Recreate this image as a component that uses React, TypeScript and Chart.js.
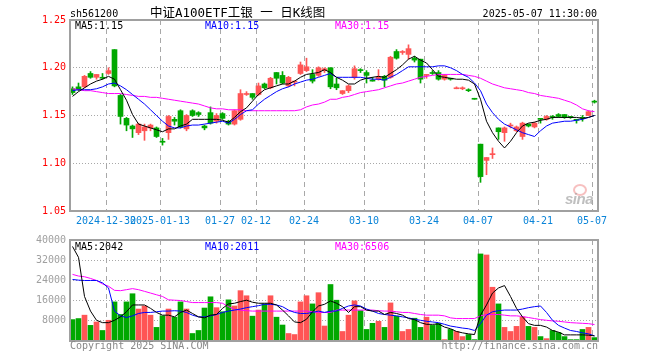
import React, { useEffect, useRef } from 'react';
import { Chart, registerables } from 'chart.js';
Chart.register(...registerables);

// ---------- data ----------
const dates = [
  '2024-12-20','2024-12-23','2024-12-24','2024-12-25','2024-12-26','2024-12-27','2024-12-30','2024-12-31','2025-01-02','2025-01-03',
  '2025-01-06','2025-01-07','2025-01-08','2025-01-09','2025-01-10','2025-01-13','2025-01-14','2025-01-15','2025-01-16','2025-01-17',
  '2025-01-20','2025-01-21','2025-01-22','2025-01-23','2025-01-24','2025-01-27','2025-02-05','2025-02-06','2025-02-07','2025-02-10',
  '2025-02-11','2025-02-12','2025-02-13','2025-02-14','2025-02-17','2025-02-18','2025-02-19','2025-02-20','2025-02-21','2025-02-24',
  '2025-02-25','2025-02-26','2025-02-27','2025-02-28','2025-03-03','2025-03-04','2025-03-05','2025-03-06','2025-03-07','2025-03-10',
  '2025-03-11','2025-03-12','2025-03-13','2025-03-14','2025-03-17','2025-03-18','2025-03-19','2025-03-20','2025-03-21','2025-03-24',
  '2025-03-25','2025-03-26','2025-03-27','2025-03-28','2025-03-31','2025-04-01','2025-04-02','2025-04-03','2025-04-07','2025-04-08',
  '2025-04-09','2025-04-10','2025-04-11','2025-04-14','2025-04-15','2025-04-16','2025-04-17','2025-04-18','2025-04-21','2025-04-22',
  '2025-04-23','2025-04-24','2025-04-25','2025-04-28','2025-04-29','2025-04-30','2025-05-06','2025-05-07'
];

const tickDates = ['2024-12-30','2025-01-13','2025-01-27','2025-02-12','2025-02-24','2025-03-10','2025-03-24','2025-04-07','2025-04-21','2025-05-07'];
const tickLabels = ['2024-12-30','2025-01-13','01-27','02-12','02-24','03-10','03-24','04-07','04-21','05-07'];

const opens = [
  1.178,1.180,1.180,1.194,1.190,1.190,1.194,1.219,1.171,1.147,
  1.139,1.132,1.134,1.137,1.137,1.123,1.132,1.146,1.155,1.136,
  1.155,1.153,1.139,1.153,1.144,1.152,1.144,1.141,1.146,1.172,
  1.173,1.172,1.183,1.179,1.195,1.192,1.181,1.185,1.194,1.197,
  1.193,1.192,1.197,1.200,1.183,1.173,1.176,1.190,1.198,1.195,
  1.187,1.188,1.191,1.190,1.217,1.216,1.214,1.210,1.209,1.192,
  1.195,1.195,1.188,1.189,1.178,1.178,1.177,1.168,1.120,1.103,
  1.109,1.137,1.132,1.139,1.134,1.128,1.141,1.138,1.147,1.146,
  1.149,1.151,1.151,1.149,1.146,1.148,1.150,1.165
];
const highs = [
  1.180,1.184,1.192,1.196,1.193,1.194,1.200,1.219,1.172,1.148,
  1.140,1.142,1.141,1.141,1.138,1.126,1.150,1.148,1.156,1.151,
  1.156,1.154,1.140,1.159,1.152,1.153,1.145,1.156,1.177,1.175,
  1.173,1.184,1.184,1.190,1.195,1.196,1.191,1.186,1.206,1.210,
  1.198,1.201,1.200,1.200,1.189,1.176,1.182,1.202,1.199,1.197,
  1.190,1.198,1.192,1.212,1.219,1.218,1.224,1.212,1.209,1.193,
  1.197,1.197,1.193,1.189,1.180,1.180,1.178,1.168,1.120,1.106,
  1.116,1.137,1.138,1.142,1.139,1.143,1.141,1.143,1.147,1.150,
  1.150,1.152,1.151,1.149,1.146,1.150,1.155,1.166
];
const lows = [
  1.172,1.176,1.179,1.189,1.188,1.188,1.193,1.180,1.141,1.134,
  1.127,1.130,1.124,1.134,1.127,1.119,1.125,1.140,1.137,1.134,
  1.149,1.149,1.135,1.141,1.142,1.146,1.140,1.140,1.145,1.171,
  1.167,1.171,1.178,1.178,1.183,1.183,1.180,1.181,1.193,1.196,
  1.184,1.191,1.195,1.178,1.177,1.172,1.174,1.188,1.195,1.184,
  1.186,1.187,1.180,1.189,1.209,1.214,1.209,1.206,1.184,1.189,
  1.193,1.187,1.187,1.187,1.178,1.177,1.175,1.167,1.080,1.088,
  1.105,1.125,1.123,1.137,1.133,1.125,1.138,1.137,1.142,1.145,
  1.146,1.148,1.147,1.147,1.142,1.144,1.150,1.163
];
const closes = [
  1.174,1.177,1.191,1.190,1.193,1.189,1.197,1.181,1.149,1.140,
  1.136,1.141,1.138,1.140,1.128,1.122,1.149,1.144,1.138,1.150,
  1.150,1.151,1.137,1.142,1.150,1.147,1.141,1.155,1.173,1.173,
  1.169,1.181,1.179,1.189,1.189,1.184,1.190,1.186,1.203,1.201,
  1.186,1.200,1.199,1.180,1.179,1.176,1.181,1.199,1.197,1.192,
  1.186,1.190,1.187,1.211,1.210,1.217,1.220,1.208,1.188,1.193,
  1.194,1.188,1.192,1.188,1.179,1.179,1.176,1.167,1.086,1.106,
  1.110,1.133,1.137,1.140,1.138,1.142,1.139,1.142,1.146,1.149,
  1.148,1.149,1.148,1.148,1.145,1.147,1.154,1.164
];

const ma5 = [
  1.170,1.175,1.179,1.183,1.186,1.188,1.191,1.188,1.177,1.166,
  1.151,1.141,1.139,1.137,1.135,1.133,1.136,1.136,1.139,1.141,
  1.146,1.146,1.146,1.146,1.146,1.145,1.143,1.148,1.154,1.158,
  1.165,1.172,1.177,1.179,1.181,1.183,1.183,1.186,1.190,1.193,
  1.194,1.195,1.198,1.195,1.190,1.187,1.183,1.183,1.187,1.189,
  1.190,1.191,1.190,1.194,1.198,1.203,1.209,1.212,1.208,1.205,
  1.198,1.191,1.190,1.189,1.188,1.188,1.187,1.183,1.167,1.144,
  1.132,1.123,1.116,1.123,1.132,1.139,1.142,1.143,1.145,1.146,
  1.148,1.148,1.148,1.148,1.148,1.147,1.148,1.150
];
const ma10 = [
  1.176,1.177,1.177,1.177,1.178,1.180,1.183,1.184,1.181,1.177,
  1.172,1.167,1.162,1.156,1.150,1.144,1.139,1.137,1.137,1.139,
  1.140,1.140,1.141,1.142,1.143,1.144,1.142,1.146,1.151,1.155,
  1.156,1.162,1.167,1.171,1.175,1.178,1.180,1.183,1.185,1.187,
  1.188,1.190,1.192,1.194,1.190,1.190,1.190,1.190,1.190,1.189,
  1.188,1.188,1.187,1.190,1.193,1.197,1.201,1.201,1.201,1.201,
  1.201,1.202,1.202,1.200,1.197,1.193,1.190,1.184,1.176,1.162,
  1.153,1.146,1.141,1.138,1.135,1.132,1.130,1.128,1.134,1.139,
  1.142,1.143,1.144,1.144,1.145,1.146,1.148,1.150
];
const ma30 = [
  1.178,1.177,1.176,1.176,1.175,1.174,1.173,1.173,1.173,1.172,
  1.171,1.170,1.170,1.169,1.169,1.168,1.167,1.166,1.165,1.164,
  1.163,1.162,1.160,1.158,1.157,1.157,1.156,1.156,1.156,1.155,
  1.155,1.155,1.155,1.155,1.155,1.155,1.155,1.155,1.156,1.159,
  1.161,1.162,1.164,1.167,1.167,1.169,1.170,1.172,1.174,1.175,
  1.176,1.177,1.179,1.181,1.183,1.184,1.186,1.188,1.190,1.191,
  1.192,1.193,1.193,1.193,1.193,1.193,1.192,1.191,1.189,1.186,
  1.183,1.181,1.179,1.178,1.177,1.176,1.174,1.173,1.171,1.170,
  1.169,1.168,1.166,1.164,1.161,1.157,1.155,1.154
];

const volumes = [
  8480,8890,10230,6190,7540,4170,8210,15490,10500,15490,
  18720,12660,13870,10230,5390,9970,12660,9430,15490,12660,
  2970,4170,13060,17510,13200,11590,16300,13870,19940,17920,
  9840,12260,14690,17920,9430,6330,2970,2560,15490,17920,
  14690,19130,5930,22370,16160,3770,10230,15890,12000,4580,
  7000,7810,5390,15080,9840,3770,4580,9020,5390,9430,
  6190,7000,540,4580,3770,1750,2560,540,34480,34070,
  21290,14690,5390,3770,5790,9430,5790,5390,1750,940,
  4170,3370,1750,540,540,4580,5390,1350
];
const volMa5 = [
  37440,33130,17640,11850,8210,7270,7270,8210,9560,11580,
  14270,14270,14270,12930,11310,10230,10230,9560,11310,12250,
  10900,9560,9160,10230,10500,12930,14680,14950,15620,16160,
  15350,14950,14950,14950,14270,12250,9960,7540,7270,8620,
  11580,13870,14540,15890,14950,13600,11310,13600,13600,12250,
  11850,11850,10500,11310,10900,10230,8890,8480,7270,6600,
  6600,6730,5520,4850,3770,3230,2830,2560,10230,14270,
  18990,21010,21950,17640,12930,9560,6870,6190,6190,5520,
  4170,3500,2420,2420,2420,2420,2300,2042
];
const volMa10 = [
  24370,24100,23970,23970,23970,23030,21010,11850,9960,9290,
  9960,10900,11310,11310,11580,11850,11850,11990,11850,11310,
  10230,9560,9560,9960,10500,11310,11850,12250,12660,13200,
  13600,14000,14540,14540,14270,13600,12250,11310,10900,10900,
  11310,11850,11310,11850,11850,12930,13870,14270,13870,12660,
  11850,10900,10500,10230,9960,9560,9160,8620,8210,7810,
  7540,7270,6600,5920,5520,5120,4850,4170,6870,10230,
  11580,11990,12250,12250,12250,12660,13200,13600,13870,11310,
  8210,6190,5120,4170,3770,3230,2830,2011
];
const volMa30 = [
  26390,25720,25450,24780,23970,22620,21680,20060,19930,20330,
  20740,20330,19660,18990,18310,17640,16300,16160,16030,15620,
  15220,15220,15220,15220,15220,14950,13600,12500,12200,12000,
  11850,11850,11850,11850,11850,11850,11850,11850,11850,11850,
  11580,11310,11310,11310,12250,12250,12250,12250,12250,12250,
  12250,11990,11850,11850,11580,11310,11310,10900,10500,10230,
  10230,10230,9960,9160,8890,8890,8890,8890,9960,10500,
  10500,10500,10230,9960,9960,9700,9290,8890,8480,8210,
  7950,7810,7540,7270,7140,7000,6870,6506
];

const priceTicks = [1.05, 1.10, 1.15, 1.20, 1.25];
const volTicks = [0, 8000, 16000, 24000, 32000, 40000];

// ---------- styles ----------
const MONO = '"DejaVu Sans Mono", "Liberation Mono", monospace';
const RED = '#ff5555';
const GREEN = '#00a800';
const FRAME = '#a0a0a0';
const GRID = '#a8a8a8';

const N = dates.length;
const xs = dates.map((_, i) => i + 5 / 12);
const tickIdx = tickDates.map((d) => dates.indexOf(d));
const upColors = closes.map((c, i) => (c >= opens[i] ? RED : GREEN));

const framePlugin = {
  id: 'frame',
  afterDraw(chart: any) {
    const { ctx, chartArea } = chart;
    const { left, top, right, bottom } = chartArea;
    ctx.save();
    ctx.strokeStyle = FRAME;
    ctx.lineWidth = 2;
    ctx.strokeRect(left, top, right - left, bottom - top);
    ctx.restore();
  },
};

const lineDs = (vals: number[], color: string) => ({
  type: 'line' as const,
  data: xs.map((x, i) => ({ x, y: vals[i] })),
  borderColor: color,
  borderWidth: 1,
  pointRadius: 0,
  tension: 0,
  fill: false,
});

const xScale = (showLabels: boolean) => ({
  type: 'linear' as const,
  min: 0,
  max: N,
  offset: false,
  afterBuildTicks: (s: any) => {
    s.ticks = tickIdx.map((value) => ({ value }));
  },
  afterFit: (s: any) => {
    s.height = 19;
  },
  grid: { offset: false, color: GRID, lineWidth: 1, drawTicks: false },
  border: { display: false, dash: [5, 4] },
  ticks: {
    display: showLabels,
    autoSkip: false,
    maxRotation: 0,
    minRotation: 0,
    padding: 4,
    color: '#0a84d8',
    font: { family: MONO, size: 10 },
    callback: (v: any) => {
      const k = tickIdx.indexOf(Number(v));
      return k >= 0 ? tickLabels[k] : '';
    },
  },
});

function mainConfig(): any {
  return {
    type: 'bar',
    data: {
      datasets: [
        lineDs(ma5, '#000000'),
        lineDs(ma10, '#0000ff'),
        lineDs(ma30, '#ff00ff'),
        {
          type: 'bar',
          data: xs.map((x, i) => ({ x, y: [Math.min(opens[i], closes[i]), Math.max(opens[i], closes[i])] })),
          backgroundColor: upColors,
          barThickness: 5,
          minBarLength: 1,
          grouped: false,
          borderWidth: 0,
        },
        {
          type: 'bar',
          data: xs.map((x, i) => ({ x, y: [lows[i], highs[i]] })),
          backgroundColor: upColors,
          barThickness: 1,
          minBarLength: 1,
          grouped: false,
          borderWidth: 0,
        },
      ],
    },
    options: {
      animation: false,
      responsive: false,
      maintainAspectRatio: false,
      devicePixelRatio: 1,
      events: [],
      layout: { padding: { left: 0, right: 62, top: 20, bottom: 0 } },
      plugins: { legend: { display: false }, tooltip: { enabled: false }, title: { display: false } },
      scales: {
        x: xScale(true),
        y: {
          type: 'linear',
          min: 1.05,
          max: 1.25,
          beginAtZero: false,
          afterBuildTicks: (s: any) => {
            s.ticks = priceTicks.map((value) => ({ value }));
          },
          afterFit: (s: any) => {
            s.width = 70;
          },
          grid: {
            drawTicks: false,
            lineWidth: 1,
            color: (c: any) => (c.index === 0 || c.index === priceTicks.length - 1 ? 'rgba(0,0,0,0)' : GRID),
          },
          border: { display: false, dash: [1, 2] },
          ticks: {
            padding: 4,
            color: '#ff0000',
            font: { family: MONO, size: 10 },
            callback: (v: any) => Number(v).toFixed(2),
          },
        },
      },
    },
    plugins: [framePlugin],
  };
}

function volConfig(): any {
  return {
    type: 'bar',
    data: {
      datasets: [
        lineDs(volMa5, '#000000'),
        lineDs(volMa10, '#0000ff'),
        lineDs(volMa30, '#ff00ff'),
        {
          type: 'bar',
          data: xs.map((x, i) => ({ x, y: volumes[i] })),
          backgroundColor: upColors,
          barThickness: 5,
          grouped: false,
          borderWidth: 0,
        },
      ],
    },
    options: {
      animation: false,
      responsive: false,
      maintainAspectRatio: false,
      devicePixelRatio: 1,
      events: [],
      layout: { padding: { left: 0, right: 62, top: 10, bottom: 0 } },
      plugins: { legend: { display: false }, tooltip: { enabled: false }, title: { display: false } },
      scales: {
        x: xScale(false),
        y: {
          type: 'linear',
          min: 0,
          max: 40000,
          afterBuildTicks: (s: any) => {
            s.ticks = volTicks.map((value) => ({ value }));
          },
          afterFit: (s: any) => {
            s.width = 70;
          },
          grid: {
            drawTicks: false,
            lineWidth: 1,
            color: (c: any) => (c.index === 0 || c.index === volTicks.length - 1 ? 'rgba(0,0,0,0)' : GRID),
          },
          border: { display: false, dash: [1, 2] },
          ticks: {
            padding: 4,
            color: '#a0a0a0',
            font: { family: MONO, size: 10 },
            callback: (v: any) => (Number(v) === 0 ? '' : String(v)),
          },
        },
      },
    },
    plugins: [framePlugin],
  };
}

// text placed by its baseline (DejaVu Sans Mono metrics, line-height = font size)
function Txt(props: { text: string; x: number; base: number; size?: number; color?: string; align?: 'left' | 'right'; family?: string; style?: any }) {
  const size = props.size ?? 10;
  const top = props.base - 0.846 * size;
  const s: any = {
    position: 'absolute',
    top,
    fontFamily: props.family ?? MONO,
    fontSize: size,
    lineHeight: `${size}px`,
    color: props.color ?? '#000',
    whiteSpace: 'nowrap',
    ...props.style,
  };
  if (props.align === 'right') s.right = 660 - props.x;
  else s.left = props.x;
  return <div style={s}>{props.text}</div>;
}

export default function App() {
  const mainRef = useRef<HTMLCanvasElement>(null);
  const volRef = useRef<HTMLCanvasElement>(null);

  useEffect(() => {
    const c1 = new Chart(mainRef.current as HTMLCanvasElement, mainConfig());
    const c2 = new Chart(volRef.current as HTMLCanvasElement, volConfig());
    return () => {
      c1.destroy();
      c2.destroy();
    };
  }, []);

  const last = (a: number[]) => a[a.length - 1];

  return (
    <div style={{ position: 'fixed', left: 0, top: 0, width: 660, height: 360, background: '#fff', overflow: 'hidden' }}>
      <canvas ref={mainRef} width={660} height={230} style={{ position: 'absolute', left: 0, top: 0, width: 660, height: 230 }} />
      <canvas ref={volRef} width={660} height={130} style={{ position: 'absolute', left: 0, top: 230, width: 660, height: 130 }} />

      <Txt text="sh561200" x={70} base={17} />
      <Txt text="中证A100ETF工银 一 日K线图" x={150} base={18} size={12.5} family={'"DejaVu Sans Mono", "Noto Sans CJK SC", monospace'} />
      <Txt text="2025-05-07 11:30:00" x={597} base={17} align="right" />

      <Txt text={`MA5:${last(ma5).toFixed(2)}`} x={75} base={29} color="#000000" />
      <Txt text={`MA10:${last(ma10).toFixed(2)}`} x={205} base={29} color="#0000ff" />
      <Txt text={`MA30:${last(ma30).toFixed(2)}`} x={335} base={29} color="#ff00ff" />

      <Txt text={`MA5:${last(volMa5)}`} x={75} base={250} color="#000000" />
      <Txt text={`MA10:${last(volMa10)}`} x={205} base={250} color="#0000ff" />
      <Txt text={`MA30:${last(volMa30)}`} x={335} base={250} color="#ff00ff" />

      <Txt text="Copyright 2025 SINA.COM" x={70} base={349} color="#888888" />
      <Txt text="http://finance.sina.com.cn" x={598} base={349} color="#888888" align="right" />

      <div style={{ position: 'absolute', left: 573, top: 184, width: 10, height: 8, border: '2px solid rgba(240,140,140,0.55)', borderRadius: '50%' }} />
      <Txt text="sina" x={565} base={204} size={15} color="rgba(170,170,170,0.75)" family={'"Liberation Sans", Arial, sans-serif'} style={{ fontStyle: 'italic', fontWeight: 'bold', letterSpacing: -0.5 }} />
    </div>
  );
}
